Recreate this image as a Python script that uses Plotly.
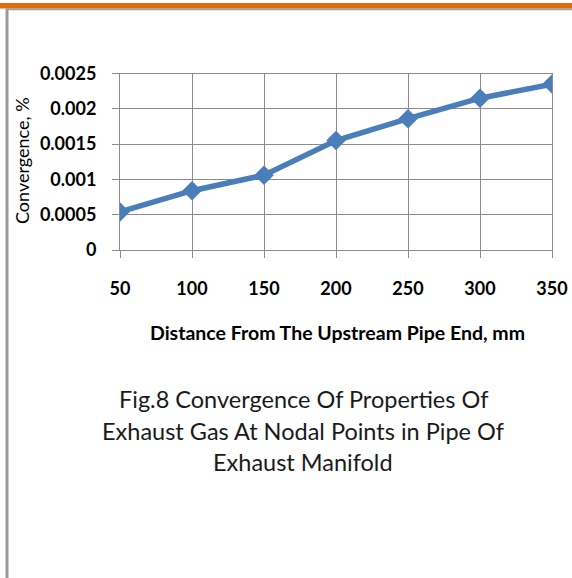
import plotly.graph_objects as go

# Distance along the pipe (mm) and convergence at each nodal point (%)
distance_mm = [50, 100, 150, 200, 250, 300, 350]
convergence_pct = [0.00054, 0.00084, 0.00106, 0.00155, 0.00186, 0.00215, 0.00235]

y_tick_vals = [0, 0.0005, 0.001, 0.0015, 0.002, 0.0025]
y_tick_text = ["0", "0.0005", "0.001", "0.0015", "0.002", "0.0025"]
x_tick_vals = [50, 100, 150, 200, 250, 300, 350]
x_tick_text = ["50", "100", "150", "200", "250", "300", "350"]

caption_lines = [
    "Fig.8 Convergence Of Properties Of",
    "Exhaust Gas At Nodal Points in Pipe Of",
    "Exhaust Manifold",
]

W, H = 572, 578
LINE_BLUE = "#4a7ebb"
GRID = "#8c8c8c"
FONT = "Lato"
TICK_FONT = dict(family=FONT, size=18, color="#000000", weight="bold")


def px_x(p):
    return p / W


def px_y(p):
    return 1 - p / H


fig = go.Figure()
fig.add_trace(
    go.Scatter(
        x=distance_mm,
        y=convergence_pct,
        mode="lines+markers",
        line=dict(color=LINE_BLUE, width=5.5),
        marker=dict(symbol="diamond", size=15, color=LINE_BLUE),
        showlegend=False,
        hoverinfo="x+y",
    )
)

fig.update_layout(
    width=W,
    height=H,
    margin=dict(l=0, r=0, t=0, b=0),
    paper_bgcolor="white",
    plot_bgcolor="white",
    xaxis=dict(
        domain=[px_x(120), px_x(552)],
        range=[50, 350],
        tickvals=x_tick_vals,
        ticktext=x_tick_text,
        showgrid=True,
        gridcolor=GRID,
        gridwidth=1,
        showline=True,
        linecolor=GRID,
        linewidth=1,
        mirror=True,
        ticks="outside",
        ticklen=7,
        tickcolor=GRID,
        tickfont=TICK_FONT,
        ticklabelstandoff=15,
        zeroline=False,
        automargin=False,
    ),
    yaxis=dict(
        domain=[px_y(250), px_y(73.5)],
        range=[0, 0.0025],
        tickvals=y_tick_vals,
        ticktext=y_tick_text,
        showgrid=True,
        gridcolor=GRID,
        gridwidth=1,
        showline=True,
        linecolor=GRID,
        linewidth=1,
        mirror=True,
        ticks="outside",
        ticklen=7,
        tickcolor=GRID,
        tickfont=TICK_FONT,
        ticklabelstandoff=12,
        zeroline=False,
        automargin=False,
    ),
)

# Page decorations: orange rule across the top and the gray frame edges
fig.add_shape(type="rect", xref="paper", yref="paper",
              x0=0, x1=1, y0=px_y(8.5), y1=px_y(3),
              fillcolor="#e36c0a", line_width=0, layer="above")
fig.add_shape(type="line", xref="paper", yref="paper",
              x0=px_x(7), x1=px_x(7), y0=0, y1=px_y(8.5),
              line=dict(color="#9a9a9a", width=3))
fig.add_shape(type="line", xref="paper", yref="paper",
              x0=px_x(7), x1=1, y0=px_y(9.3), y1=px_y(9.3),
              line=dict(color="#a0a0a0", width=2))

# Axis titles
fig.add_annotation(
    text="Distance From The Upstream Pipe End, mm",
    xref="paper", yref="paper", x=px_x(337), y=px_y(333),
    xanchor="center", yanchor="middle", showarrow=False,
    font=dict(family=FONT, size=19.5, color="#000000", weight="bold"),
)
fig.add_annotation(
    text="Convergence, %",
    xref="paper", yref="paper", x=px_x(22), y=px_y(161),
    xanchor="center", yanchor="middle", showarrow=False, textangle=-90,
    font=dict(family=FONT, size=18, color="#000000"),
)

# Figure caption below the chart
for line, yc in zip(caption_lines, [399, 431, 462]):
    fig.add_annotation(
        text=line,
        xref="paper", yref="paper", x=px_x(303), y=px_y(yc),
        xanchor="center", yanchor="middle", showarrow=False,
        font=dict(family=FONT, size=23.5, color="#1a1a1a"),
    )

fig.write_html("out.html")
